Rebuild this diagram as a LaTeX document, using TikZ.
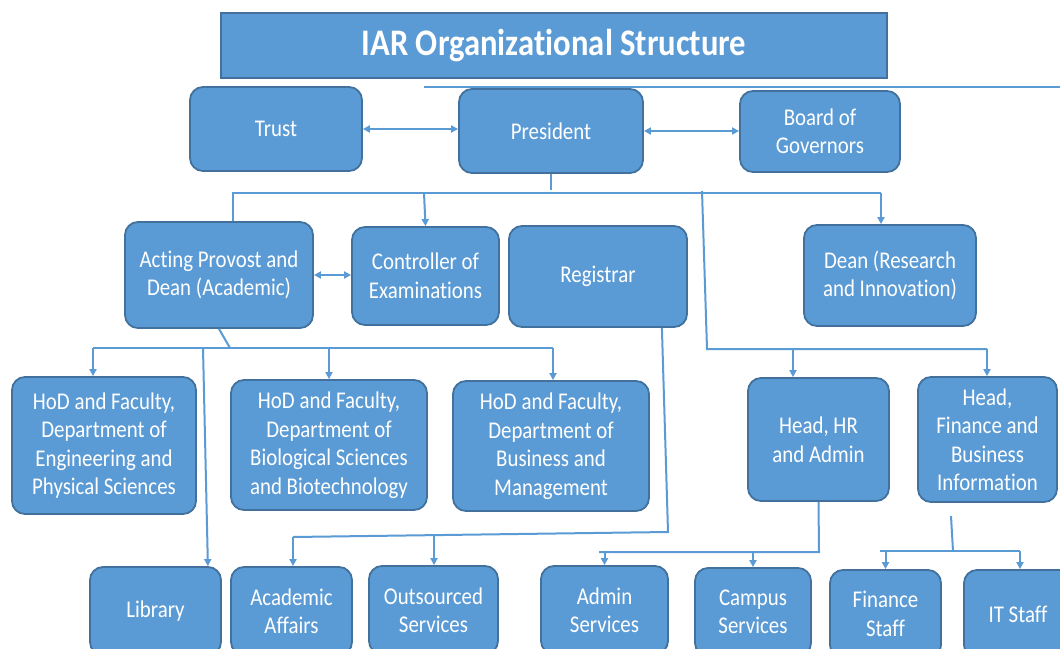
\documentclass[tikz,border=0pt]{standalone}
\usepackage{fontspec}
\setmainfont[FakeStretch=0.87, RawFeature={-liga;-clig;-calt;-dlig}]{Carlito}
\usetikzlibrary{arrows.meta,calc}
\definecolor{boxblue}{HTML}{5B9BD5}
\definecolor{boxedge}{HTML}{41719C}
\tikzset{
  box/.style={draw=boxedge, line width=1.8pt, fill=boxblue, rounded corners=13pt,
    text=white, align=center, inner sep=0pt, font=\fontsize{24}{28.5}\selectfont},
  titlebox/.style={draw=boxedge, line width=2pt, fill=boxblue, text=white,
    inner sep=0pt, font=\fontsize{37.5}{40}\selectfont\bfseries},
  conn/.style={draw=boxblue, line width=2pt},
  arr/.style={conn, -{Triangle[length=7pt,width=7pt]}},
  darr/.style={conn, {Triangle[length=7pt,width=7pt]}-{Triangle[length=7pt,width=7pt]}},
}
\begin{document}
\begin{tikzpicture}[x=1pt,y=-1pt]
\clip (0,0) rectangle (1060,648);
\fill[white] (0,0) rectangle (1060,648);

% title
\node[titlebox, minimum width=666pt, minimum height=65pt] (title) at (554,45.5) {IAR Organiza\kern0pt t\kern0pt ional Structure};

% row 1
\node[box, minimum width=172pt, minimum height=84pt] (trust) at (276,129) {Trust};
\node[box, minimum width=184pt, minimum height=84pt] (pres) at (551,131) {President};
\node[box, minimum width=160pt, minimum height=81pt] (board) at (820,131.5) {Board of\\Governors};

% row 2
\node[box, minimum width=188pt, minimum height=106pt] (acting) at (219,275) {Acting Provost and\\Dean (Academic)};
\node[box, minimum width=147pt, minimum height=98pt] (ctrl) at (425.5,276) {Controller of\\Examinations};
\node[box, minimum width=178pt, minimum height=101pt] (reg) at (598,276.5) {Registrar};
\node[box, minimum width=172pt, minimum height=101pt] (dean) at (890,275.5) {Dean (Research\\and Innovation)};

% row 3
\node[box, minimum width=184pt, minimum height=137pt] (hod1) at (104,445.5) {HoD and Faculty,\\Department of\\Engineering and\\Physical Sciences};
\node[box, minimum width=196pt, minimum height=130pt] (hod2) at (329,445) {HoD and Faculty,\\Department of\\Biological Sciences\\and Biotechnology};
\node[box, minimum width=196pt, minimum height=130pt] (hod3) at (551,446) {HoD and Faculty,\\Department of\\Business and\\Management};
\node[box, minimum width=141pt, minimum height=123pt] (hr) at (818.5,439.5) {Head, HR\\and Admin};
\node[box, minimum width=139pt, minimum height=125pt] (fin) at (987.5,439.5) {Head,\\Finance and\\Business\\Information};

% row 4
\node[box, minimum width=131pt, minimum height=88pt] (lib) at (155.5,611) {Library};
\node[box, minimum width=121pt, minimum height=88pt] (acad) at (291.5,611) {Academic\\Affairs};
\node[box, minimum width=129pt, minimum height=88pt] (outs) at (433.5,610) {Outsourced\\Services};
\node[box, minimum width=127pt, minimum height=88pt] (admin) at (604.5,610) {Admin\\Services};
\node[box, minimum width=116pt, minimum height=88pt] (campus) at (753,612) {Campus\\Services};
\node[box, minimum width=111pt, minimum height=88pt] (finst) at (885.5,614) {Finance\\Staff};
\node[box, minimum width=108pt, minimum height=88pt] (it) at (1018,614) {IT Staff};

% connectors row 1
\draw[darr] (trust.east) -- (trust.east -| pres.west);
\draw[darr] (pres.east) -- (pres.east -| board.west);
\coordinate (tl1) at (424,87);
\coordinate (tl2) at (1062,87);
\draw[conn, line width=1.6pt] (tl1) -- (tl2);

% top bus
\coordinate (busL) at (233,193);
\coordinate (busR) at (881,193);
\coordinate (pb) at (551,190);
\draw[conn] (pres.south) -- (pb);
\draw[conn] (busL |- acting.north) -- (busL) -- (busR);
\draw[arr] (busR) -- (busR |- dean.north);
\coordinate (cb) at (424,193);
\draw[arr] (cb) -- (ctrl.north);
\coordinate (v1) at (702,191);
\coordinate (v2) at (707,349);
\coordinate (v3) at (987,349);
\draw[conn] (v1) -- (v2) -- (v3);
\coordinate (hrb) at (793,349);
\draw[arr] (hrb) -- (hrb |- hr.north);
\draw[arr] (v3) -- (v3 |- fin.north);

% acting
\draw[darr] (acting.east) -- (acting.east -| ctrl.west);
\coordinate (a2) at (230,348);
\draw[conn] (acting.south) -- (a2);
\coordinate (hL) at (93,348);
\coordinate (hR) at (553,348);
\draw[conn] (hL) -- (hR);
\draw[arr] (hL) -- (hL |- hod1.north);
\draw[arr] (hod2.north |- hL) -- (hod2.north);
\draw[arr] (hR) -- (hR |- hod3.north);
\coordinate (l1) at (203,348);
\draw[arr] (l1) -- ($(lib.north east)+(-14,0)$);

% registrar
\coordinate (r1) at ($(reg.south east)+(-26,0)$);
\coordinate (r2) at (668,532);
\coordinate (r3) at (293,537);
\draw[conn] (r1) -- (r2) -- (r3);
\draw[arr] (r3) -- (r3 |- acad.north);
\coordinate (r4) at (434,535.5);
\draw[arr] (r4) -- (r4 |- outs.north);

% head HR
\coordinate (h1) at (819,552);
\coordinate (h2) at (599,552);
\draw[conn] (hr.south) -- (h1) -- (h2);
\draw[arr] (admin.north |- h1) -- (admin.north);
\draw[arr] (campus.north |- h1) -- (campus.north);

% head finance
\coordinate (f1) at (951,516);
\coordinate (f2) at (953,551);
\draw[conn] (f1) -- (f2);
\coordinate (fL) at (880,551);
\coordinate (fR) at (1020,551);
\draw[conn] (fL) -- (fR);
\draw[arr] (finst.north |- fL) -- (finst.north);
\draw[arr] (fR) -- (fR |- it.north);
\end{tikzpicture}
\end{document}
